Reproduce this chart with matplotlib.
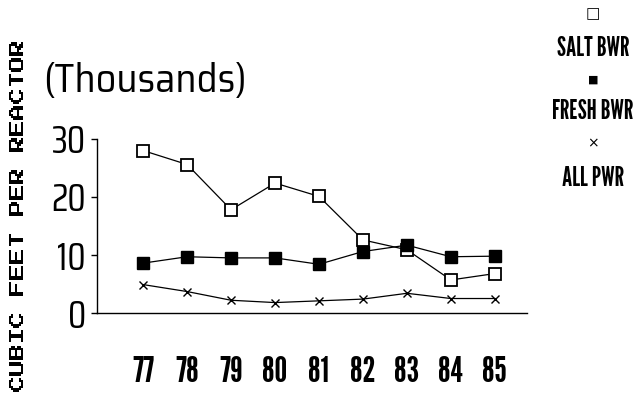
import matplotlib
matplotlib.use("Agg")
import matplotlib.pyplot as plt

years = ["77", "78", "79", "80", "81", "82", "83", "84", "85"]
salt_bwr = [28.0, 25.6, 17.8, 22.4, 20.1, 12.6, 10.9, 5.7, 6.8]
fresh_bwr = [8.6, 9.7, 9.5, 9.5, 8.4, 10.6, 11.7, 9.7, 9.8]
all_pwr = [4.9, 3.7, 2.2, 1.8, 2.1, 2.4, 3.4, 2.5, 2.5]
y_ticks = [0, 10, 20, 30]
y_tick_labels = ["0", "10", "20", "30"]

THIN = ["Saira Condensed", "DejaVu Sans"]
TITLE = ["Saira SemiCondensed", "DejaVu Sans"]
HEAVY = ["League Gothic", "DejaVu Sans"]
BLOCK = ["Press Start 2P", "DejaVu Sans Mono"]

fig = plt.figure(figsize=(6.36, 4.04), dpi=100)
ax = fig.add_axes([0.1525, 0.2252, 0.676, 0.4308])

x = list(range(len(years)))
ax.plot(x, salt_bwr, color="black", lw=0.9, marker="s", ms=9,
        mfc="white", mec="black", mew=1.3)
ax.plot(x, fresh_bwr, color="black", lw=0.9, marker="s", ms=9,
        mfc="black", mec="black")
ax.plot(x, all_pwr, color="black", lw=0.9, marker="x", ms=6, mew=1.0)

ax.set_xlim(-1.05, 8.73)
ax.set_ylim(0, 30)
ax.set_xticks(x)
ax.set_xticklabels(years, family=HEAVY, fontsize=26)
ax.tick_params(axis="x", length=0, pad=31)
ax.set_yticks(y_ticks)
ax.set_yticklabels(y_tick_labels, family=THIN, fontsize=27)
ax.tick_params(axis="y", length=4, width=1, pad=4, direction="out")

for side in ("top", "right"):
    ax.spines[side].set_visible(False)
for side in ("left", "bottom"):
    ax.spines[side].set_linewidth(1.0)

fig.text(0.028, 0.468, "CUBIC FEET PER REACTOR", rotation=90,
         ha="center", va="center", family=BLOCK, fontsize=11.5)
fig.text(0.068, 0.80, "(Thousands)", ha="left", va="center",
         family=TITLE, fontsize=29)

# legend column on the right
lx = 0.932
fig.text(lx, 0.965, "\u25a1", ha="center", va="center", fontsize=11,
         family="DejaVu Sans")
fig.text(lx, 0.881, "SALT BWR", ha="center", va="center", fontsize=19,
         family=HEAVY)
fig.text(lx, 0.802, "\u25a0", ha="center", va="center", fontsize=8,
         family="DejaVu Sans")
fig.text(lx, 0.723, "FRESH BWR", ha="center", va="center", fontsize=19,
         family=HEAVY)
fig.text(lx, 0.646, "\u00d7", ha="center", va="center", fontsize=10,
         family="DejaVu Sans")
fig.text(lx, 0.559, "ALL PWR", ha="center", va="center", fontsize=19,
         family=HEAVY)

fig.savefig("out.png", dpi=100, facecolor="white")
